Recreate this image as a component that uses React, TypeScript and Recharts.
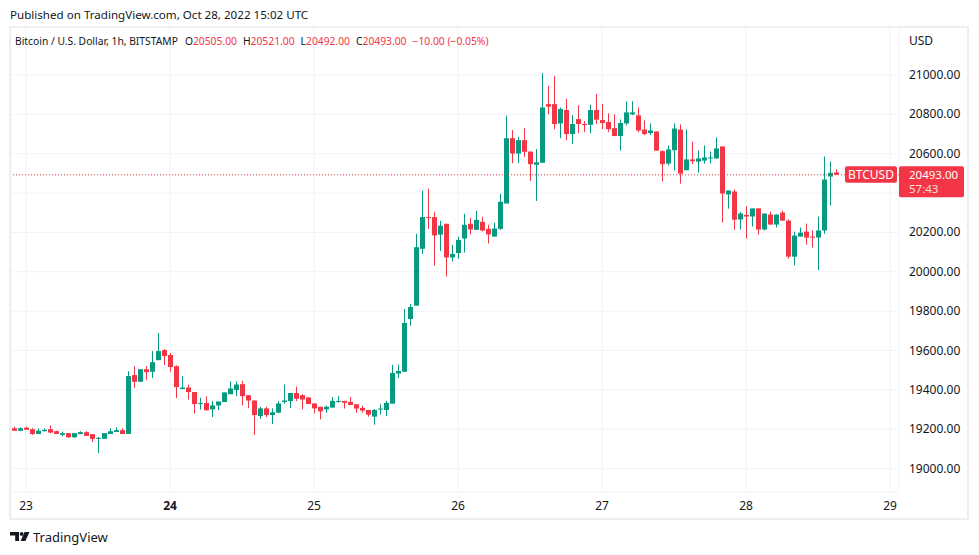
import React from 'react';
import { ComposedChart, Bar, XAxis, YAxis, CartesianGrid, ReferenceLine } from 'recharts';

// Bitcoin / U.S. Dollar, 1h, BITSTAMP — first candle Oct 22 22:00 UTC
const opens = [
  19205, 19192, 19208, 19200, 19176, 19190, 19200, 19190, 19171, 19180,
  19159, 19175, 19185, 19175, 19152, 19151, 19176, 19186, 19195, 19176,
  19475, 19441, 19505, 19492, 19551, 19602, 19577, 19520, 19404, 19412,
  19389, 19330, 19333, 19301, 19321, 19338, 19378, 19399, 19429, 19373,
  19346, 19267, 19306, 19272, 19284, 19338, 19343, 19384, 19373, 19362,
  19331, 19314, 19301, 19310, 19339, 19344, 19339, 19327, 19308, 19298,
  19264, 19301, 19298, 19330, 19483, 19492, 19760, 19828, 20117, 20278,
  20278, 20189, 20244, 20073, 20095, 20169, 20244, 20213, 20254, 20218,
  20179, 20218, 20347, 20679, 20601, 20669, 20611, 20544, 20554, 20852,
  20852, 20754, 20822, 20700, 20776, 20751, 20747, 20822, 20771, 20761,
  20730, 20690, 20754, 20800, 20795, 20723, 20705, 20713, 20613, 20550,
  20618, 20723, 20516, 20571, 20560, 20565, 20578, 20576, 20637, 20393,
  20408, 20266, 20289, 20281, 20322, 20215, 20291, 20240, 20301, 20260,
  20077, 20179, 20204, 20179, 20174, 20210, 20484, 20505,
];
const highs = [
  19212, 19210, 19214, 19205, 19205, 19205, 19220, 19193, 19188, 19180,
  19180, 19190, 19190, 19175, 19161, 19180, 19205, 19210, 19205, 19495,
  19521, 19505, 19521, 19597, 19689, 19607, 19587, 19525, 19470, 19427,
  19389, 19360, 19367, 19343, 19341, 19387, 19443, 19443, 19446, 19373,
  19346, 19314, 19314, 19306, 19343, 19427, 19384, 19417, 19378, 19362,
  19331, 19314, 19320, 19364, 19369, 19344, 19364, 19327, 19320, 19298,
  19303, 19327, 19344, 19527, 19529, 19811, 19837, 20193, 20412, 20422,
  20305, 20259, 20244, 20137, 20178, 20295, 20274, 20310, 20280, 20239,
  20249, 20397, 20793, 20720, 20686, 20730, 20611, 20623, 21010, 20946,
  20995, 20835, 20879, 20796, 20847, 20766, 20849, 20905, 20852, 20805,
  20801, 20774, 20866, 20866, 20835, 20769, 20754, 20713, 20618, 20642,
  20754, 20749, 20723, 20662, 20616, 20642, 20611, 20683, 20637, 20413,
  20418, 20305, 20332, 20322, 20322, 20296, 20306, 20291, 20311, 20266,
  20204, 20225, 20245, 20210, 20281, 20586, 20561, 20521,
];
const lows = [
  19191, 19190, 19196, 19171, 19176, 19189, 19180, 19176, 19164, 19156,
  19156, 19175, 19166, 19135, 19079, 19151, 19176, 19186, 19176, 19176,
  19410, 19441, 19451, 19461, 19551, 19526, 19492, 19358, 19404, 19351,
  19280, 19300, 19296, 19262, 19297, 19338, 19378, 19368, 19321, 19307,
  19171, 19252, 19262, 19226, 19284, 19330, 19307, 19343, 19301, 19328,
  19280, 19250, 19283, 19310, 19335, 19305, 19323, 19284, 19284, 19264,
  19223, 19274, 19267, 19330, 19459, 19492, 19726, 19828, 20091, 20218,
  20032, 20106, 19976, 20052, 20066, 20098, 20190, 20213, 20205, 20144,
  20179, 20213, 20347, 20552, 20552, 20584, 20462, 20360, 20554, 20801,
  20725, 20679, 20669, 20649, 20705, 20710, 20705, 20751, 20725, 20710,
  20689, 20616, 20744, 20796, 20710, 20695, 20695, 20616, 20459, 20540,
  20515, 20448, 20516, 20547, 20504, 20550, 20550, 20576, 20250, 20321,
  20214, 20215, 20169, 20230, 20189, 20210, 20240, 20225, 20260, 20067,
  20033, 20179, 20138, 20123, 20008, 20193, 20337, 20492,
];
const closes = [
  19192, 19205, 19197, 19176, 19193, 19197, 19183, 19176, 19180, 19159,
  19180, 19185, 19166, 19151, 19156, 19180, 19190, 19195, 19176, 19470,
  19441, 19505, 19490, 19541, 19597, 19572, 19516, 19414, 19412, 19389,
  19328, 19333, 19296, 19321, 19341, 19387, 19407, 19427, 19368, 19346,
  19272, 19306, 19272, 19286, 19331, 19346, 19384, 19355, 19351, 19328,
  19306, 19291, 19314, 19344, 19344, 19334, 19323, 19305, 19295, 19274,
  19298, 19305, 19334, 19486, 19496, 19740, 19821, 20125, 20278, 20274,
  20185, 20234, 20073, 20091, 20162, 20239, 20215, 20264, 20210, 20190,
  20220, 20356, 20679, 20601, 20669, 20610, 20547, 20556, 20835, 20839,
  20751, 20827, 20700, 20751, 20751, 20746, 20822, 20773, 20756, 20725,
  20690, 20756, 20810, 20810, 20718, 20700, 20718, 20616, 20547, 20622,
  20728, 20499, 20571, 20562, 20576, 20581, 20581, 20627, 20398, 20413,
  20265, 20296, 20281, 20322, 20215, 20296, 20240, 20291, 20260, 20077,
  20184, 20199, 20174, 20174, 20210, 20469, 20503, 20493,
];

const dayLabels = ['23', '24', '25', '26', '27', '28', '29'];
const boldDayLabel = '24';
const firstCandleHour = 22;
const yTicks = [19000, 19200, 19400, 19600, 19800, 20000, 20200, 20400, 20600, 20800, 21000];
const symbol = 'BTCUSD';
const countdown = '57:43';
const publishedText = 'Published on TradingView.com, Oct 28, 2022 15:02 UTC';
const titleText = 'Bitcoin / U.S. Dollar, 1h, BITSTAMP';

const UP = '#089981';
const DOWN = '#f23645';
const TEXT = '#131722';
const GRID = '#f0f3fa';
const FONT = "'Noto Sans', sans-serif";

const data = opens.map((o, i) => ({ t: i, o, hi: highs[i], lo: lows[i], c: closes[i] }));
const dayTicks = dayLabels.map((_, k) => (24 - firstCandleHour) + 24 * k);
const last = data.length - 1;
const lastPrice = closes[last];
const change = closes[last] - closes[last - 1];
const changePct = (change / closes[last - 1]) * 100;
const fmt = (v: number) => v.toFixed(2);
const signed = (v: number, d = 2) => (v < 0 ? '\u2212' : '+') + Math.abs(v).toFixed(d);
const lastColor = closes[last] >= opens[last] ? UP : DOWN;

const Candle = (props: any) => {
  const { x, y, width, height, payload } = props;
  if (x == null || y == null) return null;
  const top = Math.min(y, y + height);
  const h = Math.abs(height);
  const { o, hi, lo, c } = payload;
  const range = hi - lo || 1;
  const py = (p: number) => top + ((hi - p) / range) * h;
  const cx = Math.round(x + width / 2);
  const color = c >= o ? UP : DOWN;
  const bTop = py(Math.max(o, c));
  const bBot = py(Math.min(o, c));
  return (
    <g>
      <line x1={cx + 0.5} x2={cx + 0.5} y1={top} y2={top + h} stroke={color} strokeWidth={1} />
      <rect x={cx - 2} y={bTop} width={5} height={Math.max(1, bBot - bTop)} fill={color} />
    </g>
  );
};

const XTick = (props: any) => {
  const { x, y, payload } = props;
  const idx = dayTicks.indexOf(payload.value);
  const label = dayLabels[idx] ?? '';
  return (
    <text x={x} y={y + 18} textAnchor="middle" fontSize={12} fontFamily={FONT} fill={TEXT}
      fontWeight={label === boldDayLabel ? 700 : 400}>
      {label}
    </text>
  );
};

// price-axis labels hidden under the last-price tag, as on TradingView
const tagCoversLabel = (v: number) => v > lastPrice - 150 && v < lastPrice + 75;

const YTick = (props: any) => {
  const { x, y, payload } = props;
  if (tagCoversLabel(payload.value)) return <g />;
  return (
    <text x={x + 10} y={y + 4} textAnchor="start" fontSize={12} fontFamily={FONT} fill={TEXT}>
      {fmt(payload.value)}
    </text>
  );
};

const PriceTag = (props: any) => {
  const vb = props.viewBox || {};
  const y = vb.y ?? 0;
  const right = (vb.x ?? 0) + (vb.width ?? 0);
  return (
    <g fontFamily={FONT}>
      <rect x={right - 54} y={y - 8.5} width={52} height={16.5} rx={2} fill={DOWN} />
      <text x={right - 28} y={y + 4} textAnchor="middle" fontSize={12} fill="#ffffff">{symbol}</text>
      <rect x={right} y={y - 8.5} width={65} height={31} rx={2} fill={DOWN} />
      <text x={right + 10} y={y + 4} textAnchor="start" fontSize={11.5} fill="#ffffff">{fmt(lastPrice)}</text>
      <text x={right + 10} y={y + 18.5} textAnchor="start" fontSize={11.5} fill="#ffffff" fillOpacity={0.85}>{countdown}</text>
    </g>
  );
};

const Logo = () => (
  <svg width={20} height={10} viewBox="0 0 20 10" style={{ position: 'absolute', left: 10, top: 532 }}>
    <path d="M0 0 H9 V9 H5.2 V3.6 H0 Z" fill={TEXT} />
    <circle cx={11.6} cy={1.9} r={1.9} fill={TEXT} />
    <path d="M14.6 0 H19.5 L15.4 9 H10.6 Z" fill={TEXT} />
  </svg>
);

export default function App() {
  return (
    <div style={{ position: 'absolute', left: 0, top: 0, width: 979, height: 555, background: '#ffffff', fontFamily: FONT, color: TEXT, overflow: 'hidden' }}>
      <div style={{ position: 'absolute', left: 10, top: 7, fontSize: 11.6, lineHeight: '16px', whiteSpace: 'pre' }}>{publishedText}</div>
      <div style={{ position: 'absolute', left: 9, top: 26, width: 960, height: 494, border: '2px solid #eceef3', boxSizing: 'border-box' }} />
      <div style={{ position: 'absolute', left: 0, top: 0 }}>
        <ComposedChart width={979} height={555} data={data} margin={{ top: 27, right: 10, bottom: 35, left: 11 }}>
          <CartesianGrid stroke={GRID} strokeWidth={1} />
          <XAxis dataKey="t" type="number" domain={[-0.5, 147.5]} ticks={dayTicks} allowDataOverflow
            axisLine={false} tickLine={false} tickSize={0} tickMargin={0} height={28} tick={<XTick />} interval={0} />
          <YAxis orientation="right" type="number" domain={[18881, 21244]} ticks={yTicks} allowDataOverflow
            axisLine={false} tickLine={false} tickSize={0} tickMargin={0} width={70} tick={<YTick />} interval={0} />
          <ReferenceLine y={lastPrice} stroke={DOWN} strokeDasharray="1 2" strokeWidth={1} label={<PriceTag />} />
          <Bar dataKey={(d: any) => [d.lo, d.hi]} barSize={5} shape={<Candle />} isAnimationActive={false} />
        </ComposedChart>
      </div>
      <div style={{ position: 'absolute', left: 15, top: 33, fontSize: 10.3, lineHeight: '16px', whiteSpace: 'pre' }}>
        <span>{titleText}</span>
        <span style={{ marginLeft: 7 }}>O</span><span style={{ color: lastColor }}>{fmt(opens[last])}</span>
        <span style={{ marginLeft: 6 }}>H</span><span style={{ color: lastColor }}>{fmt(highs[last])}</span>
        <span style={{ marginLeft: 6 }}>L</span><span style={{ color: lastColor }}>{fmt(lows[last])}</span>
        <span style={{ marginLeft: 6 }}>C</span><span style={{ color: lastColor }}>{fmt(closes[last])}</span>
        <span style={{ marginLeft: 6, color: lastColor }}>{signed(change)} ({signed(changePct)}%)</span>
      </div>
      <div style={{ position: 'absolute', left: 909, top: 33, fontSize: 12, lineHeight: '16px' }}>USD</div>
      <Logo />
      <div style={{ position: 'absolute', left: 33, top: 528, fontSize: 13, lineHeight: '18px' }}>TradingView</div>
    </div>
  );
}
